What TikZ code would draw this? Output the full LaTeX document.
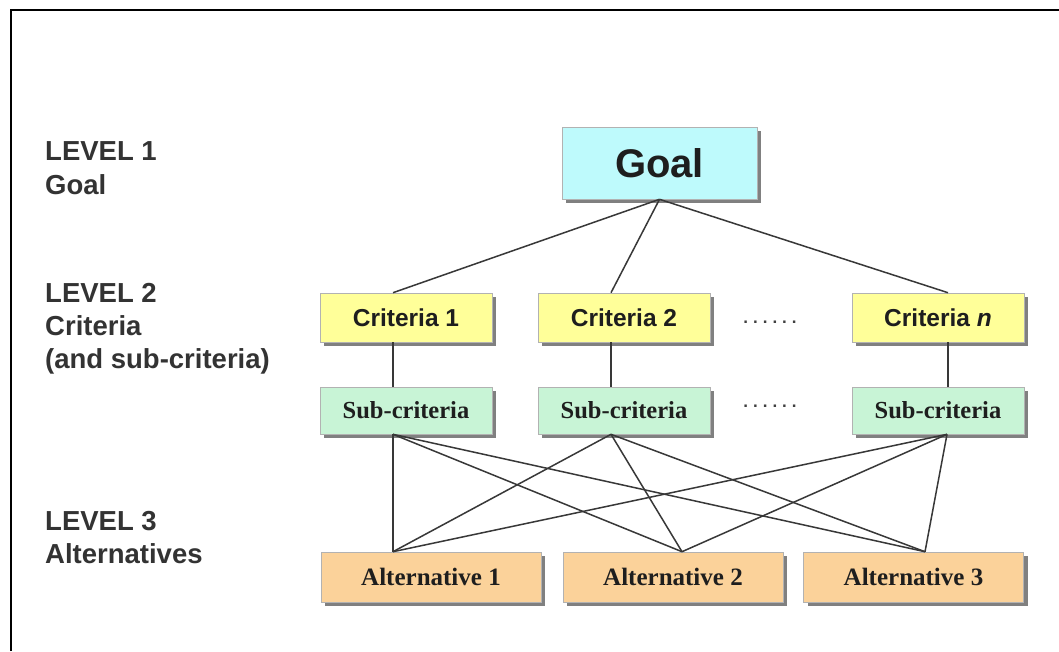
\documentclass[tikz,border=0pt]{standalone}
\usepackage{fontspec}
\setmainfont{Liberation Serif}
\setsansfont{Liberation Sans}
\usetikzlibrary{shadows}
\definecolor{goalc}{RGB}{190,250,252}
\definecolor{critc}{RGB}{255,255,153}
\definecolor{subc}{RGB}{200,244,214}
\definecolor{altc}{RGB}{251,210,154}
\definecolor{inkc}{RGB}{30,30,30}
\begin{document}
\begin{tikzpicture}[x=1pt,y=-1pt,
  box/.style={draw=black!30, line width=0.6pt, inner sep=0pt, text=inkc,
    drop shadow={shadow xshift=4pt,shadow yshift=-4pt,fill=black!50,opacity=1}},
  goalbox/.style={box, fill=goalc, minimum width=195pt, minimum height=72pt,
    font=\sffamily\bfseries\fontsize{40}{42}\selectfont},
  critbox/.style={box, fill=critc, minimum width=172pt, minimum height=49pt,
    font=\sffamily\bfseries\fontsize{24.5}{27}\selectfont},
  subbox/.style={box, fill=subc, minimum width=172pt, minimum height=47pt,
    font=\bfseries\fontsize{24.5}{27}\selectfont},
  altbox/.style={box, fill=altc, minimum width=220pt, minimum height=50pt,
    font=\bfseries\fontsize{25}{27}\selectfont},
  levtext/.style={anchor=base west, inner sep=0pt, text=black!80,
    font=\sffamily\bfseries\fontsize{27.5}{33}\selectfont},
  link/.style={draw=black!78, line width=1.5pt},
  dotrow/.style={inner sep=0pt, text=black!75,
    font=\sffamily\bfseries\fontsize{17}{18}\selectfont}
]
\useasboundingbox (0,0) rectangle (1059,651);
\fill[white] (0,0) rectangle (1059,651);
% frame
\draw[line width=1.5pt] (11,651) -- (11,10) -- (1059,10);

% level labels
\node[levtext] (l1a) at (45,160) {LEVEL 1};
\node[levtext] (l1b) at (45,194) {Goal};
\node[levtext] (l2a) at (45,302) {LEVEL 2};
\node[levtext] (l2b) at (45,335) {Criteria};
\node[levtext] (l2c) at (45,368) {(and sub-criteria)};
\node[levtext] (l3a) at (45,530) {LEVEL 3};
\node[levtext] (l3b) at (45,563) {Alternatives};

% boxes
\node[goalbox] (goal) at (659.5,163) {Goal};
\node[critbox] (c1) at (406,317.5) {Criteria 1};
\node[critbox] (c2) at (624,317.5) {Criteria 2};
\node[critbox] (cn) at (938,317.5) {Criteria \textit{n}};
\node[subbox] (s1) at (406,410.5) {Sub-criteria};
\node[subbox] (s2) at (624,410.5) {Sub-criteria};
\node[subbox] (sn) at (938,410.5) {Sub-criteria};
\node[altbox] (a1) at (431,577) {Alternative 1};
\node[altbox] (a2) at (673,577) {Alternative 2};
\node[altbox] (a3) at (913.5,577) {Alternative 3};

\node[dotrow] (d1) at (770,322) {.\kern5pt.\kern5pt.\kern5pt.\kern5pt.\kern5pt.};
\node[dotrow] (d2) at (770,406) {.\kern5pt.\kern5pt.\kern5pt.\kern5pt.\kern5pt.};

% ports
\coordinate (c1t) at ([xshift=-13pt]c1.north);
\coordinate (c2t) at ([xshift=-13pt]c2.north);
\coordinate (cnt) at ([xshift=10pt]cn.north);
\coordinate (c1b) at ([xshift=-13pt]c1.south);
\coordinate (c2b) at ([xshift=-13pt]c2.south);
\coordinate (cnb) at ([xshift=10pt]cn.south);
\coordinate (s1t) at ([xshift=-13pt]s1.north);
\coordinate (s2t) at ([xshift=-13pt]s2.north);
\coordinate (snt) at ([xshift=10pt]sn.north);
\coordinate (s1b) at ([xshift=-13pt]s1.south);
\coordinate (s2b) at ([xshift=-13pt]s2.south);
\coordinate (snb) at ([xshift=9pt]sn.south);
\coordinate (a1t) at ([xshift=-38pt]a1.north);
\coordinate (a2t) at ([xshift=9pt]a2.north);
\coordinate (a3t) at ([xshift=11.5pt]a3.north);

% connectors
\draw[link] (goal.south) -- (c1t);
\draw[link] (goal.south) -- (c2t);
\draw[link] (goal.south) -- (cnt);
\draw[link] (c1b) -- (s1t);
\draw[link] (c2b) -- (s2t);
\draw[link] (cnb) -- (snt);
\foreach \s in {s1b,s2b,snb}{
  \foreach \a in {a1t,a2t,a3t}{
    \draw[link] (\s) -- (\a);
  }
}
\end{tikzpicture}
\end{document}
